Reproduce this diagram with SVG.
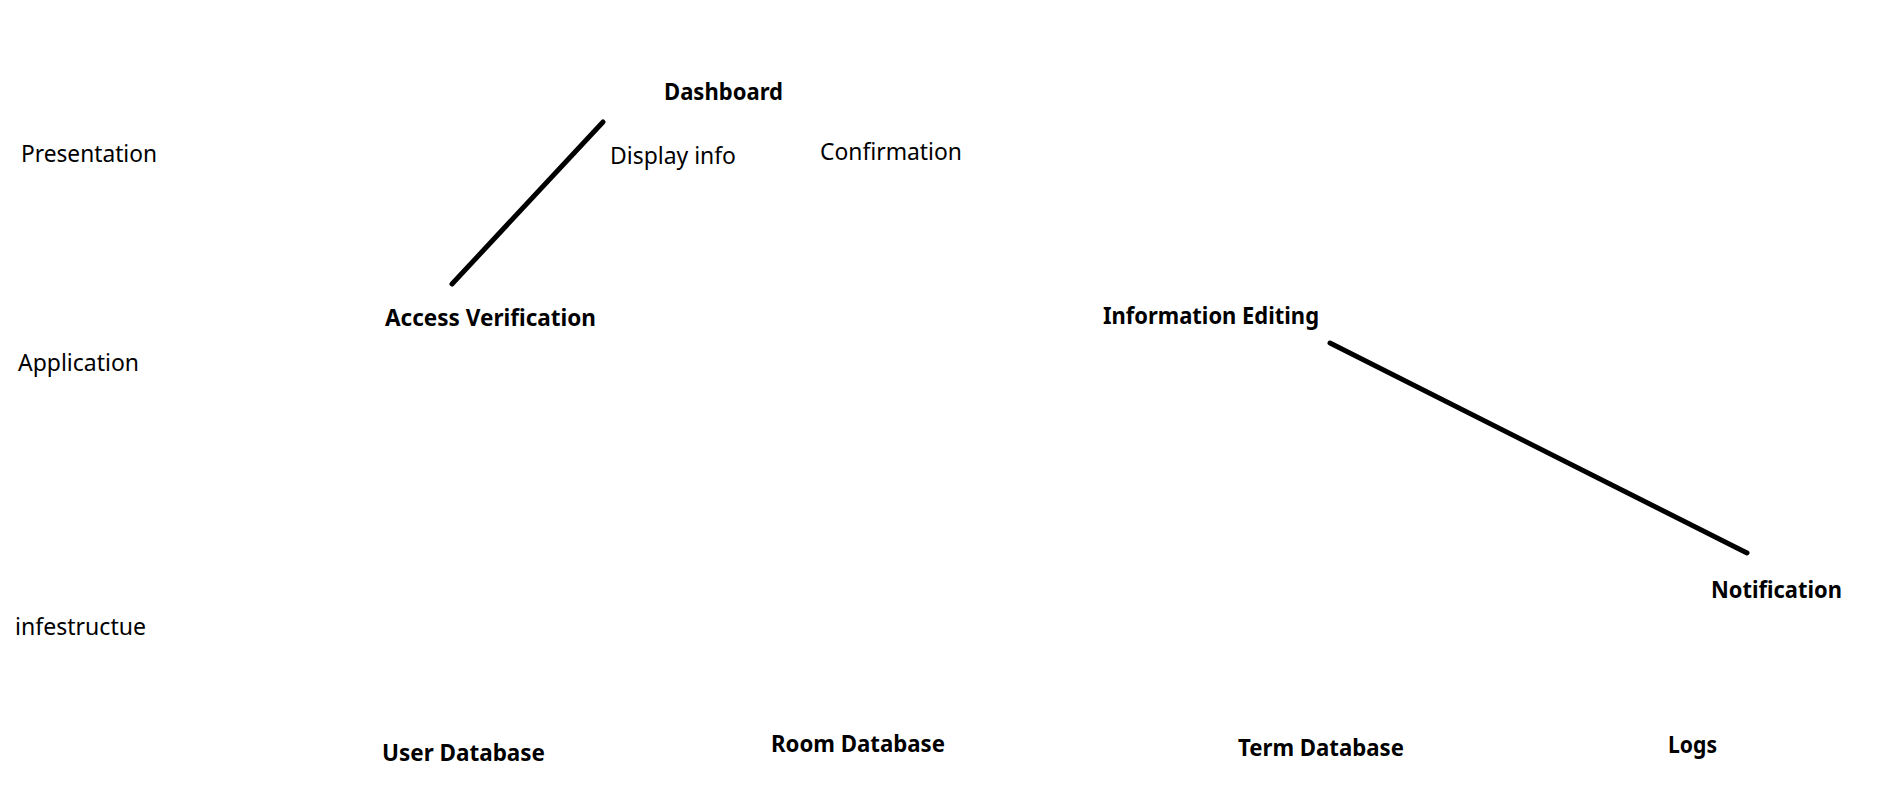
<svg xmlns="http://www.w3.org/2000/svg" width="1898" height="810" viewBox="0 0 1898 810">
<style>
  text { font-family: "Noto Sans", "Open Sans", "Liberation Sans", sans-serif; font-size: 23px; fill: #000; }
  .node { font-weight: bold; }
  .conn { stroke: #000; stroke-width: 5; stroke-linecap: round; fill: none; }
</style>
<rect width="1898" height="810" fill="#fff"/>
<g id="layers">
  <text x="21" y="162" textLength="136" lengthAdjust="spacingAndGlyphs">Presentation</text>
  <text x="18" y="371" textLength="121" lengthAdjust="spacingAndGlyphs">Application</text>
  <text x="15" y="635" textLength="131" lengthAdjust="spacingAndGlyphs">infestructue</text>
</g>
<g id="connectors">
  <line class="conn" x1="452" y1="284" x2="603" y2="122"/>
  <line class="conn" x1="1330" y1="343" x2="1747" y2="553"/>
</g>
<g id="dashboard"><text class="node" x="664" y="100" textLength="119" lengthAdjust="spacingAndGlyphs">Dashboard</text></g>
<g id="display-info"><text x="610" y="164" textLength="126" lengthAdjust="spacingAndGlyphs">Display info</text></g>
<g id="confirmation"><text x="820" y="160" textLength="142" lengthAdjust="spacingAndGlyphs">Confirmation</text></g>
<g id="access-verification"><text class="node" x="385" y="326" textLength="211" lengthAdjust="spacingAndGlyphs">Access Verification</text></g>
<g id="information-editing"><text class="node" x="1103" y="324" textLength="216" lengthAdjust="spacingAndGlyphs">Information Editing</text></g>
<g id="notification"><text class="node" x="1711" y="598" textLength="131" lengthAdjust="spacingAndGlyphs">Notification</text></g>
<g id="user-database"><text class="node" x="382" y="761" textLength="163" lengthAdjust="spacingAndGlyphs">User Database</text></g>
<g id="room-database"><text class="node" x="771" y="752" textLength="174" lengthAdjust="spacingAndGlyphs">Room Database</text></g>
<g id="term-database"><text class="node" x="1238" y="756" textLength="166" lengthAdjust="spacingAndGlyphs">Term Database</text></g>
<g id="logs"><text class="node" x="1668" y="753" textLength="49" lengthAdjust="spacingAndGlyphs">Logs</text></g>
</svg>
